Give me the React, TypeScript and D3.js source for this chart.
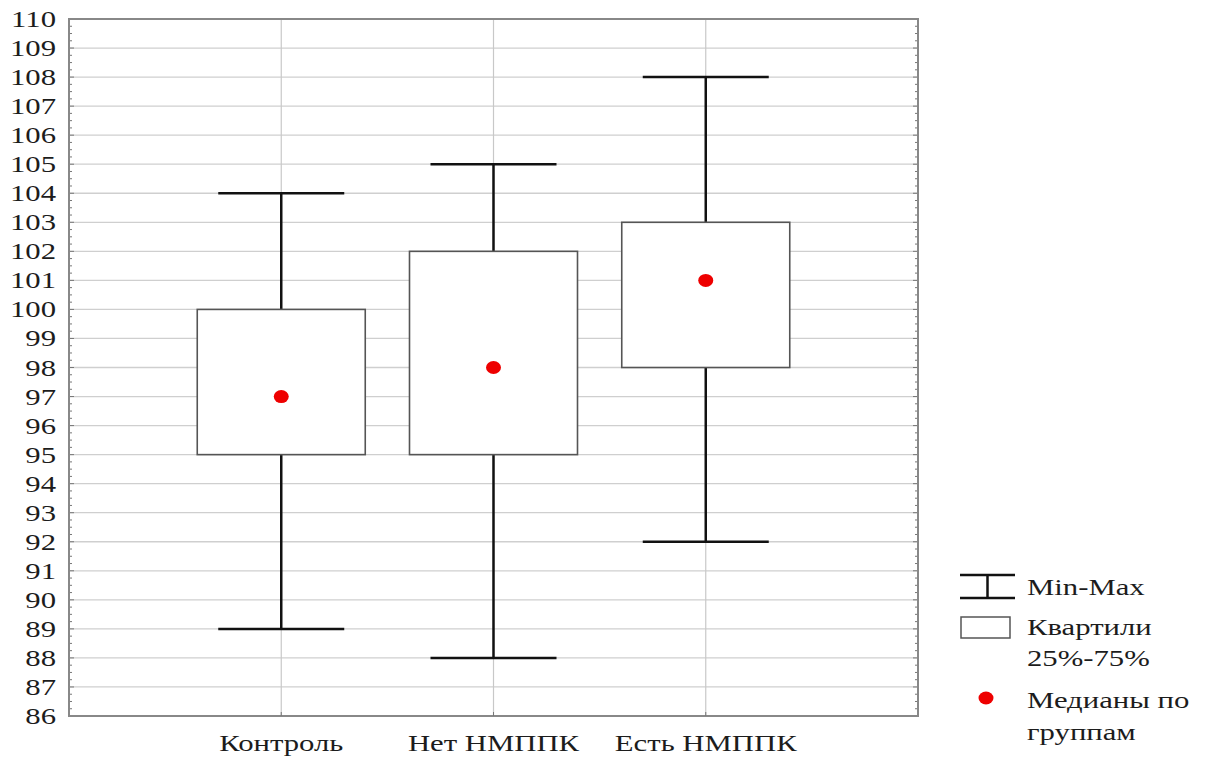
import React from "react";
import * as d3 from "d3";

const categories = ["Контроль", "Нет НМППК", "Есть НМППК"];
const minValues = [89, 88, 92];
const q1Values = [95, 95, 98];
const medianValues = [97, 98, 101];
const q3Values = [100, 102, 103];
const maxValues = [104, 105, 108];
const yTicks = d3.range(86, 111, 1);
const legendLabels = ["Min-Max", "Квартили", "25%-75%", "Медианы по", "группам"];

const W = 1210;
const H = 760;
const left = 69;
const right = 918;
const top = 19;
const bottom = 716;
const SX = 1.28;
const FONT = "Liberation Serif";

export default function App() {
  const y = d3.scaleLinear().domain([86, 110]).range([bottom, top]);
  const x = d3.scaleLinear().domain([0, categories.length + 1]).range([left, right]);
  const boxHalf = 84;
  const capHalf = 63;
  const minorTicks = d3.range(86, 110.001, 0.25).filter((v) => Math.abs(v - Math.round(v)) > 1e-6);

  return (
    <svg width={W} height={H} style={{ position: "absolute", left: 0, top: 0, background: "#fff" }}>
      <style>{`text { font-family: "Liberation Serif", "Times New Roman", serif; fill: #1c1c1c; }`}</style>
      {yTicks.map((t) => (
        <line key={"g" + t} x1={left} x2={right} y1={y(t)} y2={y(t)} stroke="#cfcfcf" strokeWidth={1.3} />
      ))}
      {categories.map((c, i) => (
        <line key={"v" + c} x1={x(i + 1)} x2={x(i + 1)} y1={top} y2={bottom} stroke="#c8c8c8" strokeWidth={1.2} />
      ))}
      {minorTicks.map((t) => (
        <g key={"m" + t}>
          <line x1={left} x2={left + 3} y1={y(t)} y2={y(t)} stroke="#777" strokeWidth={1} />
          <line x1={right - 3} x2={right} y1={y(t)} y2={y(t)} stroke="#777" strokeWidth={1} />
        </g>
      ))}
      {yTicks.map((t) => (
        <g key={"t" + t}>
          <line x1={left} x2={left + 5} y1={y(t)} y2={y(t)} stroke="#777" strokeWidth={1} />
          <line x1={right - 5} x2={right} y1={y(t)} y2={y(t)} stroke="#777" strokeWidth={1} />
          <text
            transform={`translate(56,${y(t) + 8}) scale(${SX},1)`}
            textAnchor="end"
            fontFamily={FONT}
            fontSize={24}
          >
            {t}
          </text>
        </g>
      ))}
      <rect x={left} y={top} width={right - left} height={bottom - top} fill="none" stroke="#888" strokeWidth={2} />
      {categories.map((c, i) => {
        const cx = x(i + 1);
        return (
          <g key={"b" + c}>
            <line x1={cx} x2={cx} y1={y(maxValues[i])} y2={y(q3Values[i])} stroke="#111" strokeWidth={2.5} />
            <line x1={cx} x2={cx} y1={y(q1Values[i])} y2={y(minValues[i])} stroke="#111" strokeWidth={2.5} />
            <line x1={cx - capHalf} x2={cx + capHalf} y1={y(maxValues[i])} y2={y(maxValues[i])} stroke="#111" strokeWidth={2.5} />
            <line x1={cx - capHalf} x2={cx + capHalf} y1={y(minValues[i])} y2={y(minValues[i])} stroke="#111" strokeWidth={2.5} />
            <rect
              x={cx - boxHalf}
              y={y(q3Values[i])}
              width={boxHalf * 2}
              height={y(q1Values[i]) - y(q3Values[i])}
              fill="#fff"
              stroke="#555"
              strokeWidth={1.6}
            />
            <ellipse cx={cx} cy={y(medianValues[i])} rx={7.5} ry={6.5} fill="#ee0000" />
            <line x1={cx} x2={cx} y1={bottom - 4} y2={bottom} stroke="#777" strokeWidth={1} />
            <text
              transform={`translate(${cx},751) scale(${SX},1)`}
              textAnchor="middle"
              fontFamily={FONT}
              fontSize={24}
            >
              {c}
            </text>
          </g>
        );
      })}
      <line x1={960} x2={1015} y1={575} y2={575} stroke="#111" strokeWidth={2.5} />
      <line x1={960} x2={1015} y1={598} y2={598} stroke="#111" strokeWidth={2.5} />
      <line x1={987.5} x2={987.5} y1={575} y2={598} stroke="#111" strokeWidth={2.5} />
      <rect x={961} y={617} width={49} height={21} fill="#fff" stroke="#555" strokeWidth={1.5} />
      <ellipse cx={986} cy={698} rx={7.5} ry={6.5} fill="#ee0000" />
      {[
        { t: legendLabels[0], y: 595 },
        { t: legendLabels[1], y: 635 },
        { t: legendLabels[2], y: 666 },
        { t: legendLabels[3], y: 708 },
        { t: legendLabels[4], y: 740 },
      ].map((d) => (
        <text
          key={d.t}
          transform={`translate(1027,${d.y}) scale(${SX},1)`}
          fontFamily={FONT}
          fontSize={24}
        >
          {d.t}
        </text>
      ))}
    </svg>
  );
}
